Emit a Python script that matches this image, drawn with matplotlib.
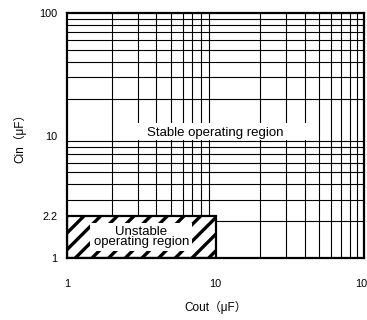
import numpy as np
import matplotlib
matplotlib.use("Agg")
import matplotlib.pyplot as plt
from matplotlib.patches import Rectangle
from matplotlib.ticker import FixedLocator, NullFormatter

plt.rcParams['font.family'] = ['Liberation Sans', 'Noto Sans CJK JP', 'DejaVu Sans']
plt.rcParams['hatch.linewidth'] = 2.4

# axis ranges and labelled ticks
x_range = [1, 100]
y_range = [1, 100]
x_ticks = [1, 10, 100]
x_tick_labels = ["1", "10", "100"]
y_ticks = [1, 2.2, 10, 100]
y_tick_labels = ["1", "2.2", "10", "100"]

# grid lines (log grid)
grid_vals = [2, 3, 4, 5, 6, 7, 8, 9, 10, 20, 30, 40, 50, 60, 70, 80, 90]

# unstable region: Cout 1..10, Cin 1..2.2
unstable_x = [1, 10]
unstable_y = [1, 2.2]

fig = plt.figure(figsize=(3.67, 3.2), dpi=100)
ax = fig.add_axes([67 / 367, 62 / 320, 297 / 367, 245 / 320])
ax.set_xscale('log')
ax.set_yscale('log')
ax.set_xlim(x_range)
ax.set_ylim(y_range)

ax.set_xticks(x_ticks)
ax.set_xticklabels(x_tick_labels)
ax.set_yticks(y_ticks)
ax.set_yticklabels(y_tick_labels)
ax.xaxis.set_minor_locator(FixedLocator(grid_vals))
ax.yaxis.set_minor_locator(FixedLocator(grid_vals))
ax.xaxis.set_minor_formatter(NullFormatter())
ax.yaxis.set_minor_formatter(NullFormatter())
ax.tick_params(which='both', length=0, labelsize=7.8, colors='black')
ax.tick_params(axis='y', pad=7)
ax.tick_params(axis='x', pad=15)

ax.set_axisbelow(True)
ax.grid(which='minor', color='black', linewidth=0.8)
ax.grid(which='major', visible=False)

for sp in ax.spines.values():
    sp.set_linewidth(1.6)
    sp.set_color('black')

# hatched unstable box
ax.add_patch(Rectangle((unstable_x[0], unstable_y[0]), unstable_x[1] - unstable_x[0],
                       unstable_y[1] - unstable_y[0], facecolor='white', edgecolor='black',
                       hatch='//', linewidth=1.6, zorder=2))
ax.text(np.sqrt(unstable_x[0] * unstable_x[1]), np.sqrt(unstable_y[0] * unstable_y[1]),
        "Unstable\noperating region", ha='center', va='center', fontsize=9.5,
        linespacing=0.8, zorder=4,
        bbox=dict(boxstyle='square,pad=0.25', facecolor='white', edgecolor='none'))

# white gap behind the stable label
ax.add_patch(Rectangle((0.189, 0.482), 0.629, 0.069, transform=ax.transAxes,
                       facecolor='white', edgecolor='none', zorder=2))
ax.text(0.5, 0.51, "Stable operating region", transform=ax.transAxes,
        ha='center', va='center', fontsize=9.5, zorder=4)

ax.set_xlabel("Cout（μF）", fontsize=8.5)
ax.set_ylabel("Cin（μF）", fontsize=8.5)
ax.xaxis.set_label_coords(0.5, -0.2)
ax.xaxis.label.set_va('center')
ax.yaxis.set_label_coords(-0.158, 0.5)
ax.yaxis.label.set_va('center')

plt.savefig("out.png", dpi=100)
plt.close()
